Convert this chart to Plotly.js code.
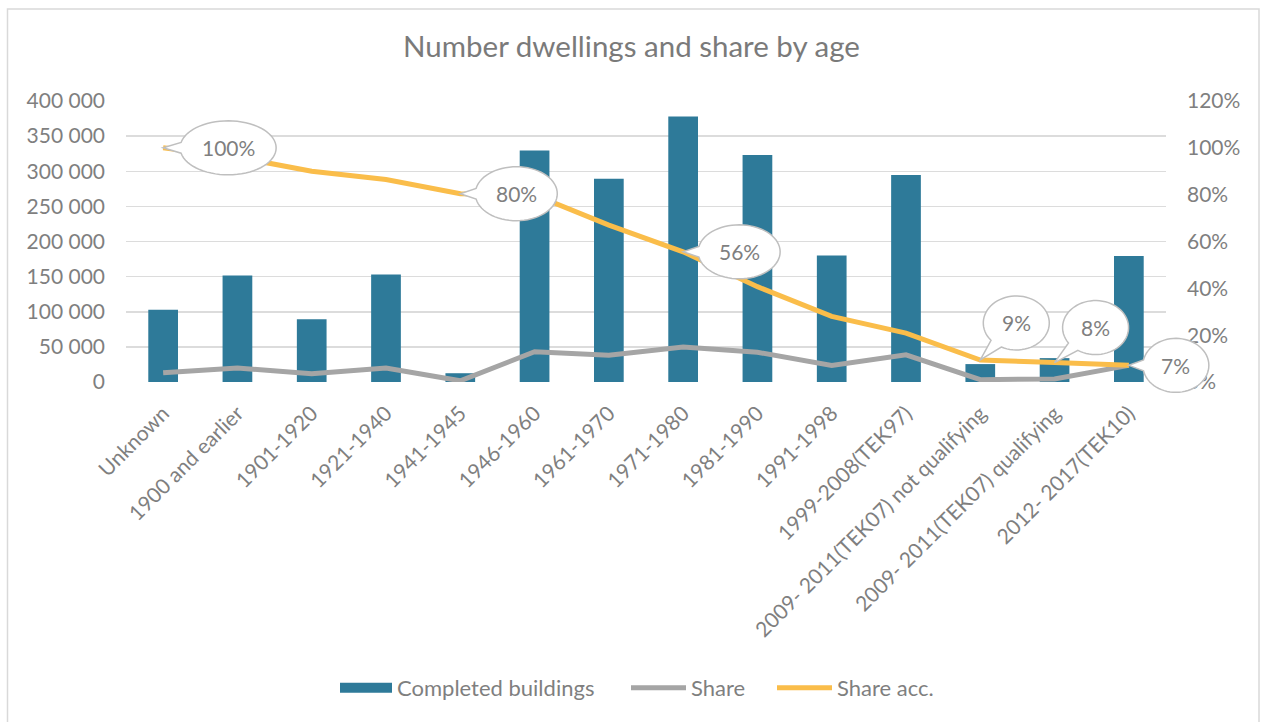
<!DOCTYPE html>
<html>
<head>
<meta charset="utf-8">
<script src="https://cdn.plot.ly/plotly-3.0.1.min.js"></script>
<style>
html,body{margin:0;padding:0;background:#fff;}
#chart{width:1263px;height:722px;}
</style>
</head>
<body>
<div id="chart"></div>
<script>
// ---- data ----
var categories = ["Unknown","1900 and earlier","1901-1920","1921-1940","1941-1945","1946-1960","1961-1970","1971-1980","1981-1990","1991-1998","1999-2008(TEK97)","2009- 2011(TEK07) not qualifying","2009- 2011(TEK07) qualifying","2012- 2017(TEK10)"];
var completedBuildings = [103000,151500,89500,153000,12500,329500,289500,378000,323000,180000,294500,25500,34000,179500];
var share = [0.040,0.060,0.035,0.060,0.005,0.129,0.114,0.149,0.127,0.071,0.116,0.010,0.013,0.071];
var shareAcc = [1.000,0.960,0.900,0.865,0.804,0.799,0.670,0.556,0.407,0.280,0.209,0.094,0.083,0.071];
var leftTicks = [0,50000,100000,150000,200000,250000,300000,350000,400000];
var rightTicks = [0,0.2,0.4,0.6,0.8,1.0,1.2];
var calloutIdx = [0,4,7,11,12,13];

// ---- style ----
var FONT = "Lato, 'Open Sans', sans-serif";
var TXT = "#7f7f7f";
var BAR = "#2e7a99";
var W = 1263, H = 722, ML = 126, MR = 97, MT = 101, MB = 340;
var plotW = W - ML - MR, plotH = H - MT - MB;
var Y2MAX = 1.2, N = categories.length;

// callout geometry (pixel offsets from the point, y up)
var calloutStyle = [
  {dx:65, dy:0, rx:48, ry:27},
  {dx:56, dy:0, rx:41, ry:27},
  {dx:56, dy:0, rx:41, ry:27},
  {dx:36, dy:37, rx:33, ry:27},
  {dx:41, dy:35, rx:33, ry:27},
  {dx:47, dy:0, rx:33, ry:27}
];

function calloutPath(s){
  var phi = Math.atan2((-s.dy)/s.ry, (-s.dx)/s.rx);
  var half = 0.2, steps = 64, pts = [];
  for (var k=0;k<=steps;k++){
    var t = phi + half + (2*Math.PI - 2*half)*k/steps;
    pts.push([s.dx + s.rx*Math.cos(t), s.dy + s.ry*Math.sin(t)]);
  }
  var p = "M " + pts[0][0].toFixed(2) + " " + pts[0][1].toFixed(2);
  for (var j=1;j<pts.length;j++) p += " L " + pts[j][0].toFixed(2) + " " + pts[j][1].toFixed(2);
  p += " L 0 0 Z";
  return p;
}

var shapes = [{
  type:"rect", xref:"paper", yref:"paper", layer:"below",
  x0:(7.5-ML)/plotW, x1:(1259-ML)/plotW, y0:(H-MB-740)/plotH, y1:(H-MB-9)/plotH,
  line:{color:"#d9d9d9", width:1.5}, fillcolor:"rgba(0,0,0,0)"
}];
var annotations = [];
calloutIdx.forEach(function(i, n){
  var s = calloutStyle[n];
  shapes.push({
    type:"path", layer:"above", xref:"paper", yref:"paper",
    xsizemode:"pixel", ysizemode:"pixel",
    xanchor:(i+0.5)/N, yanchor:shareAcc[i]/Y2MAX,
    path:calloutPath(s),
    fillcolor:"#ffffff", line:{color:"#bfbfbf", width:1.5}
  });
  annotations.push({
    x:i, y:shareAcc[i], xref:"x", yref:"y2", showarrow:false,
    xshift:s.dx, yshift:s.dy,
    text:Math.round(shareAcc[i]*100) + "%",
    font:{family:FONT, size:21, color:TXT}
  });
});

var idx = categories.map(function(c,i){return i;});

var traces = [
  {type:"bar", name:"Completed buildings", x:idx, y:completedBuildings,
   marker:{color:BAR}, yaxis:"y", showlegend:false},
  // legend swatch for the bars (wide rectangle like the original)
  {type:"scatter", mode:"lines", name:"Completed buildings", x:[null], y:[null],
   line:{color:BAR, width:17}, legend:"legend"},
  {type:"scatter", mode:"lines", name:"Share", x:idx, y:share, yaxis:"y2",
   line:{color:"#a5a5a5", width:5}, legend:"legend2"},
  {type:"scatter", mode:"lines", name:"Share acc.", x:idx, y:shareAcc, yaxis:"y2",
   line:{color:"#fabd4a", width:5}, legend:"legend3"}
];

var legendY = (H-MB-688)/plotH;
function leg(px, iw){
  return {orientation:"h", x:(px-ML)/plotW, xanchor:"left", y:legendY, yanchor:"middle",
          font:{family:FONT, size:22, color:TXT}, itemwidth:iw, bgcolor:"rgba(0,0,0,0)",
          borderwidth:0};
}

var layout = {
  width:W, height:H,
  margin:{l:ML, r:MR, t:MT, b:MB, pad:0},
  paper_bgcolor:"#ffffff", plot_bgcolor:"#ffffff",
  separators:", ",
  font:{family:FONT, color:TXT, size:20},
  title:{text:"Number dwellings and share by age", x:0.5, xanchor:"center",
         y:1-47/H, yanchor:"middle", font:{family:FONT, size:29.5, color:"#7a7a7a"}},
  bargap:0.6,
  showlegend:true,
  legend:leg(335, 52),
  legend2:leg(626, 55),
  legend3:leg(772, 55),
  xaxis:{type:"linear", range:[-0.5, N-0.5], tickvals:idx, ticktext:categories,
         tickangle:-45, showgrid:false, zeroline:false, showline:false, ticks:"",
         ticklabelstandoff:14,
         tickfont:{family:FONT, size:21, color:TXT}, fixedrange:true},
  yaxis:{range:[0,400000], tickvals:leftTicks, tickformat:",d", showgrid:true,
         gridcolor:"#dcdcdc", gridwidth:1.5, zeroline:false, showline:false, ticks:"",
         ticklabelstandoff:20, tickfont:{family:FONT, size:21, color:TXT}},
  yaxis2:{range:[0,Y2MAX], tickvals:rightTicks, tickformat:".0%", overlaying:"y", side:"right",
          showgrid:false, zeroline:false, showline:false, ticks:"", ticklabelstandoff:20,
          tickfont:{family:FONT, size:21, color:TXT}},
  shapes:shapes,
  annotations:annotations
};

Plotly.newPlot("chart", traces, layout, {displayModeBar:false, staticPlot:true});
</script>
</body>
</html>
